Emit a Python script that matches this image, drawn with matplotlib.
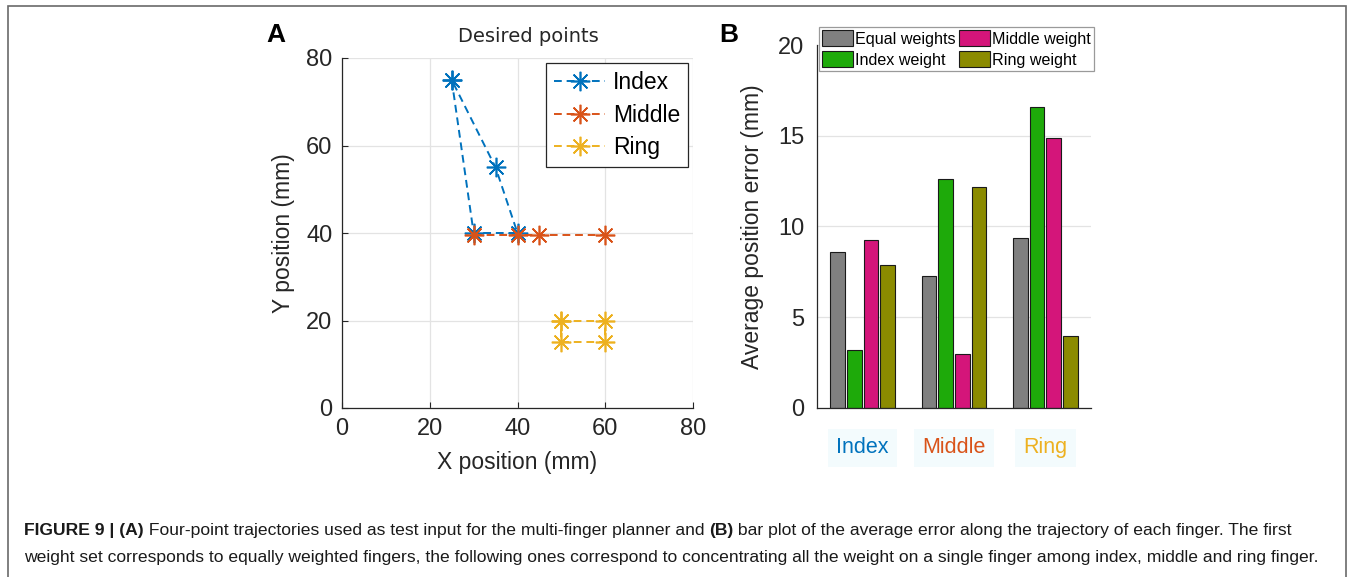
import numpy as np
import matplotlib
matplotlib.use("Agg")
import matplotlib.pyplot as plt
from matplotlib.patches import Rectangle

plt.rcParams['font.family'] = ['Liberation Sans', 'DejaVu Sans']

# Panel A: desired trajectory points (mm)
index_x = [25, 30, 40, 35, 25]
index_y = [75, 40, 40, 55, 75]
middle_x = [30, 40, 45, 60]
middle_y = [39.5, 39.5, 39.5, 39.5]
ring_x = [50, 60, 60, 50, 50]
ring_y = [20, 20, 15, 15, 20]

# Panel B: average position error (mm) per finger and weight set
fingers = ['Index', 'Middle', 'Ring']
weight_sets = ['Equal weights', 'Index weight', 'Middle weight', 'Ring weight']
err_equal = [8.6, 7.3, 9.35]
err_index_w = [3.2, 12.6, 16.6]
err_middle_w = [9.25, 3.0, 14.9]
err_ring_w = [7.9, 12.15, 3.95]

W, H = 1356, 577
fig = plt.figure(figsize=(W / 100, H / 100), dpi=100)
fig.patch.set_facecolor('white')

def fbox(x0, y0, x1, y1):
    # pixel box (top-left origin) -> figure fraction rect
    return [x0 / W, 1 - y1 / H, (x1 - x0) / W, (y1 - y0) / H]

txt = '#262626'
grid_c = '#e3e3e3'
finger_colors = ['#0072BD', '#D95319', '#EDB120']

# outer frame
fig.patches.append(Rectangle((8 / W, -0.1), (1346 - 8) / W, 1.1 - 6 / H,
                             transform=fig.transFigure, fill=False,
                             edgecolor='#6a6a6a', linewidth=1.2))

# ---- Panel A ----
axA = fig.add_axes(fbox(342, 58, 693, 408))
dash = (4, 2.5)
axA.plot(index_x, index_y, color=finger_colors[0], linestyle='--', dashes=dash,
         marker=(8, 2, 0), markersize=14, markeredgewidth=1.2, linewidth=1.4, label='Index')
axA.plot(middle_x, middle_y, color=finger_colors[1], linestyle='--', dashes=dash,
         marker=(8, 2, 0), markersize=14, markeredgewidth=1.2, linewidth=1.4, label='Middle')
axA.plot(ring_x, ring_y, color=finger_colors[2], linestyle='--', dashes=dash,
         marker=(8, 2, 0), markersize=14, markeredgewidth=1.2, linewidth=1.4, label='Ring')
axA.set_xlim(0, 80)
axA.set_ylim(0, 80)
axA.set_xticks([0, 20, 40, 60, 80])
axA.set_yticks([0, 20, 40, 60, 80])
axA.grid(True, color=grid_c, linewidth=0.9)
axA.set_axisbelow(True)
for s in ['top', 'right']:
    axA.spines[s].set_visible(False)
for s in ['left', 'bottom']:
    axA.spines[s].set_color(txt)
    axA.spines[s].set_linewidth(0.9)
axA.tick_params(direction='in', length=4, labelsize=17, colors=txt, pad=7)
axA.set_xlabel('X position (mm)', fontsize=16.5, color=txt, labelpad=8)
axA.set_ylabel('Y position (mm)', fontsize=16.5, color=txt, labelpad=8)
legA = axA.legend(loc='upper right', bbox_to_anchor=(0.986, 0.986), fontsize=16.5,
                  fancybox=False, edgecolor=txt, framealpha=1, handlelength=2.2,
                  borderpad=0.35, labelspacing=0.42, handletextpad=0.35, borderaxespad=0)
legA.get_frame().set_linewidth(0.9)
fig.text(528 / W, 1 - 37 / H, 'Desired points', fontsize=14, color=txt,
         family='DejaVu Sans', ha='center', va='center')
fig.text(266 / W, 1 - 23 / H, 'A', fontsize=19, fontweight='bold', ha='left', va='top')

# ---- Panel B ----
axB = fig.add_axes(fbox(817, 45, 1091, 408))
xpos = np.arange(1, len(fingers) + 1)
bar_w = 0.161
offsets = [-0.275, -0.092, 0.092, 0.275]
bar_colors = ['#808080', '#1eaa0a', '#d4157a', '#8b8b00']
series = [err_equal, err_index_w, err_middle_w, err_ring_w]
for vals, off, col, lab in zip(series, offsets, bar_colors, weight_sets):
    axB.bar(xpos + off, vals, width=bar_w, color=col, edgecolor='#1a1a1a',
            linewidth=0.8, label=lab, zorder=2)
axB.set_xlim(0.5, 3.5)
axB.set_ylim(0, 20)
axB.set_yticks([0, 5, 10, 15, 20])
axB.set_xticks([])
axB.yaxis.grid(True, color=grid_c, linewidth=0.9)
axB.set_axisbelow(True)
for s in ['top', 'right']:
    axB.spines[s].set_visible(False)
for s in ['left', 'bottom']:
    axB.spines[s].set_color(txt)
    axB.spines[s].set_linewidth(0.9)
axB.tick_params(axis='y', direction='in', length=0, labelsize=17, colors=txt, pad=9)
axB.set_ylabel('Average position error (mm)', fontsize=16.5, color=txt, labelpad=10)
legB = axB.legend(loc='upper right', bbox_to_anchor=(1.011, 1.05), ncol=2, fontsize=11.6,
                  fancybox=False, edgecolor='#9a9a9a', framealpha=1, handlelength=1.9,
                  handleheight=1.15, borderpad=0.2, labelspacing=0.3, handletextpad=0.15,
                  columnspacing=0.2, borderaxespad=0)
legB.get_frame().set_linewidth(0.9)
legB.set_zorder(5)
for x, name, col in zip(xpos, fingers, finger_colors):
    axB.text(x, -0.11, name, transform=axB.get_xaxis_transform(), fontsize=15.5,
             color=col, ha='center', va='center',
             bbox=dict(facecolor='#f3fbfd', edgecolor='none', pad=6))
fig.text(719 / W, 1 - 23 / H, 'B', fontsize=19, fontweight='bold', ha='left', va='top')

# ---- Caption ----
cap_size = 12.6
renderer = fig.canvas.get_renderer()

def line(pieces, y_px):
    x = 24
    for s, bold in pieces:
        t = fig.text(x / W, 1 - y_px / H, s, fontsize=cap_size,
                     fontweight='bold' if bold else 'normal', color='#1a1a1a',
                     ha='left', va='baseline')
        x += t.get_window_extent(renderer).width

line([('FIGURE 9 | (A)', True),
      (' Four-point trajectories used as test input for the multi-finger planner and ', False),
      ('(B)', True),
      (' bar plot of the average error along the trajectory of each finger. The first', False)], 535)
line([('weight set corresponds to equally weighted fingers, the following ones correspond '
       'to concentrating all the weight on a single finger among index, middle and ring finger.',
       False)], 562)

fig.savefig('out.png', dpi=100)
